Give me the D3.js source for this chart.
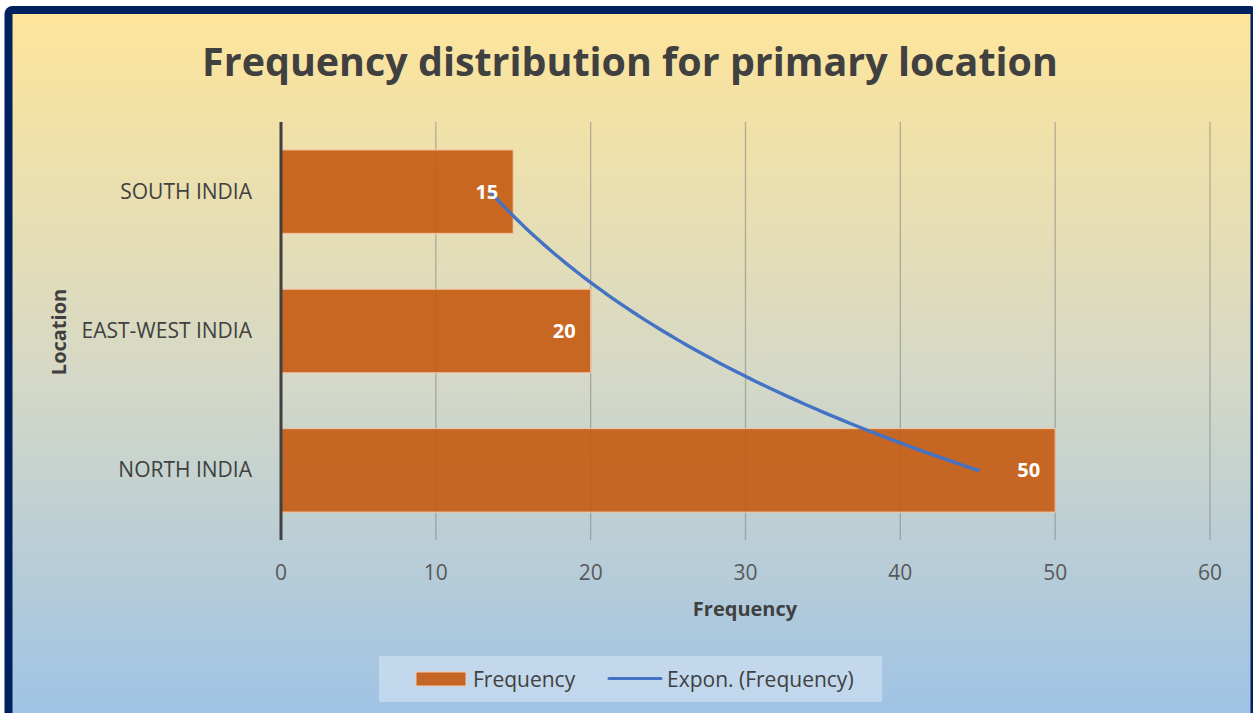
<!DOCTYPE html>
<html>
<head>
<meta charset="utf-8">
<script src="https://cdn.jsdelivr.net/npm/d3@7"></script>
<style>
  html, body { margin: 0; padding: 0; background: #ffffff; }
  svg { display: block; font-family: "Open Sans", "Noto Sans", sans-serif; }
</style>
</head>
<body>
<svg id="chart" width="1253" height="713"></svg>
<script>
// Categories listed bottom-to-top, the order the series was entered
const categories = ["NORTH INDIA", "EAST-WEST INDIA", "SOUTH INDIA"];
const frequency = [50, 20, 15];
const xTicks = [0, 10, 20, 30, 40, 50, 60];

const titleText = "Frequency distribution for primary location";
const xTitle = "Frequency";
const yTitle = "Location";
const legendLabels = ["Frequency", "Expon. (Frequency)"];

const W = 1253, H = 713;
const plot = { left: 281, right: 1210, top: 122, bottom: 540 };

const svg = d3.select("#chart");
const defs = svg.append("defs");

const bg = defs.append("linearGradient")
  .attr("id", "bg").attr("x1", 0).attr("y1", 0).attr("x2", 0).attr("y2", 1);
bg.append("stop").attr("offset", "0%").attr("stop-color", "#fee59a");
bg.append("stop").attr("offset", "50%").attr("stop-color", "#d6d9c6");
bg.append("stop").attr("offset", "100%").attr("stop-color", "#9dc2e6");

// Chart area with a thick navy frame
svg.append("rect")
  .attr("x", 8.5).attr("y", 10).attr("width", 1246).attr("height", 720)
  .attr("rx", 4)
  .attr("fill", "url(#bg)")
  .attr("stroke", "#002060").attr("stroke-width", 8);

const x = d3.scaleLinear().domain([0, 60]).range([plot.left, plot.right]);
const y = d3.scaleBand()
  .domain(categories.slice().reverse())
  .range([plot.top, plot.bottom])
  .paddingInner(0.4).paddingOuter(0.2);

// Vertical gridlines
svg.append("g").selectAll("line")
  .data(xTicks.filter(d => d > 0))
  .join("line")
  .attr("x1", d => x(d)).attr("x2", d => x(d))
  .attr("y1", plot.top).attr("y2", plot.bottom)
  .attr("stroke", "#7f7f7f").attr("stroke-opacity", 0.55).attr("stroke-width", 1.3);

// Bars
svg.append("g").selectAll("rect")
  .data(categories.map((c, i) => ({ c, v: frequency[i] })))
  .join("rect")
  .attr("x", x(0))
  .attr("y", d => y(d.c))
  .attr("width", d => x(d.v) - x(0))
  .attr("height", y.bandwidth())
  .attr("fill", "#c55a11").attr("fill-opacity", 0.9)
  .attr("stroke", "#f8cbad").attr("stroke-opacity", 0.8).attr("stroke-width", 1.3);

// Category axis line
svg.append("line")
  .attr("x1", x(0)).attr("x2", x(0))
  .attr("y1", plot.top).attr("y2", plot.bottom)
  .attr("stroke", "#404040").attr("stroke-width", 3);

// Exponential trendline: least-squares fit of ln(value) against category index 1..n
const idx = frequency.map((_, i) => i + 1);
const lnV = frequency.map(v => Math.log(v));
const mx = d3.mean(idx), my = d3.mean(lnV);
const b = d3.sum(idx, (t, i) => (t - mx) * (lnV[i] - my)) / d3.sum(idx, t => (t - mx) * (t - mx));
const a = Math.exp(my - b * mx);
const idxToY = d3.scaleLinear()
  .domain([1, categories.length])
  .range([y(categories[0]) + y.bandwidth() / 2, y(categories[categories.length - 1]) + y.bandwidth() / 2]);
const trend = d3.range(1, categories.length + 0.0001, 0.02).map(t => [t, a * Math.exp(b * t)]);
svg.append("path")
  .datum(trend)
  .attr("d", d3.line().x(d => x(d[1])).y(d => idxToY(d[0])).curve(d3.curveBasis))
  .attr("fill", "none").attr("stroke", "#4472c4").attr("stroke-width", 3.4)
  .attr("stroke-linecap", "round");

// Value labels inside the bar ends
svg.append("g").selectAll("text")
  .data(categories.map((c, i) => ({ c, v: frequency[i] })))
  .join("text")
  .attr("x", d => x(d.v) - 15)
  .attr("y", d => y(d.c) + y.bandwidth() / 2 + 7)
  .attr("text-anchor", "end")
  .attr("font-size", 20).attr("font-weight", 700).attr("fill", "#ffffff")
  .text(d => d.v);

// Category labels
svg.append("g").selectAll("text")
  .data(categories)
  .join("text")
  .attr("x", 252)
  .attr("y", d => y(d) + y.bandwidth() / 2 + 7)
  .attr("text-anchor", "end")
  .attr("font-size", 21).attr("fill", "#404040")
  .text(d => d);

// Value axis tick labels
svg.append("g").selectAll("text")
  .data(xTicks)
  .join("text")
  .attr("x", d => x(d))
  .attr("y", 580)
  .attr("text-anchor", "middle")
  .attr("font-size", 21).attr("fill", "#595959")
  .text(d => d);

// Axis titles
svg.append("text")
  .attr("x", 745).attr("y", 616)
  .attr("text-anchor", "middle")
  .attr("font-size", 20).attr("font-weight", 700).attr("fill", "#404040")
  .text(xTitle);
svg.append("text")
  .attr("transform", "translate(66,332) rotate(-90)")
  .attr("text-anchor", "middle")
  .attr("font-size", 20).attr("font-weight", 700).attr("fill", "#404040")
  .text(yTitle);

// Title, sized to span its line
const title = svg.append("text")
  .attr("x", 630).attr("y", 76)
  .attr("text-anchor", "middle")
  .attr("font-size", 40).attr("font-weight", 700).attr("fill", "#404040")
  .text(titleText);
const tw = title.node().getComputedTextLength();
title.attr("font-size", 40 * 856 / tw);

// Legend
const lg = svg.append("g");
lg.append("rect")
  .attr("x", 379).attr("y", 656).attr("width", 503).attr("height", 46)
  .attr("fill", "#d6e4f3").attr("fill-opacity", 0.6);
lg.append("rect")
  .attr("x", 416).attr("y", 672).attr("width", 50).attr("height", 14)
  .attr("fill", "#c55a11").attr("fill-opacity", 0.9)
  .attr("stroke", "#f8cbad").attr("stroke-width", 1);
lg.append("text")
  .attr("x", 473).attr("y", 687)
  .attr("font-size", 21).attr("fill", "#404040")
  .text(legendLabels[0]);
lg.append("line")
  .attr("x1", 609).attr("x2", 661).attr("y1", 678.5).attr("y2", 678.5)
  .attr("stroke", "#4472c4").attr("stroke-width", 3).attr("stroke-linecap", "round");
lg.append("text")
  .attr("x", 667).attr("y", 687)
  .attr("font-size", 21).attr("fill", "#404040")
  .text(legendLabels[1]);
</script>
</body>
</html>
